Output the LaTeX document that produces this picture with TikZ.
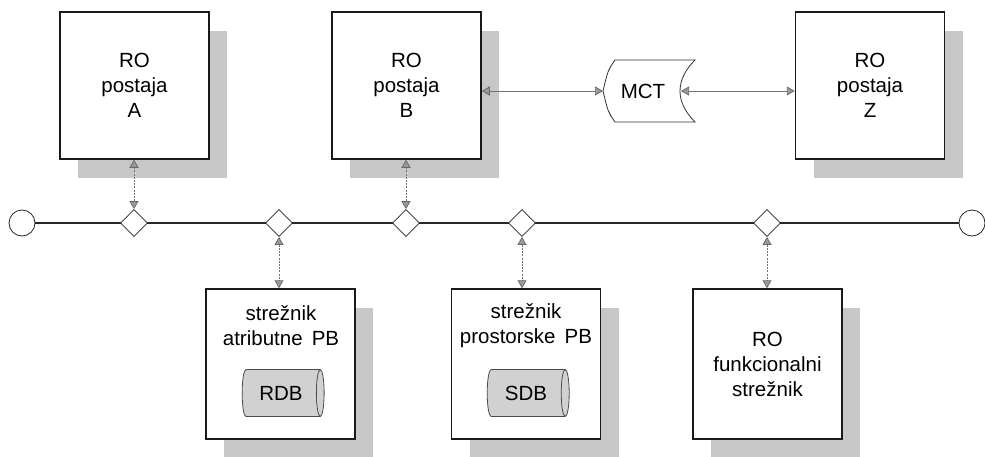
\documentclass[tikz,border=0pt]{standalone}
\usepackage{fontspec}
\setmainfont{Liberation Sans}
\usetikzlibrary{arrows.meta,shapes.geometric,shadows}

\tikzset{
  x=1pt, y=1pt,
  linktip/.tip={Triangle[length=8pt, width=9pt, fill=black!40, color=black!60]},
  txt/.style={font=\fontsize{20.5}{25}\selectfont, align=center, inner sep=0pt},
  shade box/.style={drop shadow={shadow xshift=18pt, shadow yshift=-19pt, fill=black!22, opacity=1}},
  station/.style={draw=black!90, line width=1.5pt, fill=white, minimum width=149pt,
                  minimum height=147pt, shade box, txt},
  server/.style={station, minimum height=150pt},
  tap/.style={diamond, draw=black!85, line width=0.8pt, fill=white, inner sep=0pt,
              minimum width=27pt, minimum height=27pt},
  terminal/.style={circle, draw=black!85, line width=0.8pt, fill=white, inner sep=0pt,
                   minimum size=26pt},
  bus/.style={draw=black!85, line width=1.6pt},
  vlink/.style={draw=black!55, line width=0.7pt, dash pattern=on 2pt off 1.2pt, linktip-linktip},
  hlink/.style={draw=black!55, line width=0.7pt, linktip-linktip},
  store/.style={cylinder, draw=black!70, line width=0.8pt, fill=black!18, shape aspect=0.55,
                minimum width=47pt, minimum height=82pt, inner sep=0pt, txt}
}

\begin{document}
\begin{tikzpicture}
\useasboundingbox (0,0) rectangle (985,-456);

% workstations on top
\node[station] (A) at (134.5,-85.5) {RO\\postaja\\A};
\node[station] (B) at (406.5,-85.5) {RO\\postaja\\B};
\node[station] (Z) at (870,-85.5) {RO\\postaja\\Z};

% servers below the bus
\node[server] (atr) at (280.5,-364) {};
\node[server] (pro) at (526,-364) {};
\node[server] (fun) at (767.5,-364) {RO\\funkcionalni\\strežnik};
\node[txt] (atrT) at (281,-326) {strežnik\\atributne\, PB};
\node[txt] (proT) at (526,-326) {strežnik\\prostorske\, PB};
\node[store] (rdb) at (281,-393) {RDB};
\node[store] (sdb) at (526,-393) {SDB};

% MCT gateway
\coordinate (mctL) at (603,-91);
\coordinate (mctR) at (681,-91);
\draw[black!80, line width=0.8pt, fill=white]
  (615,-60) -- (695,-60)
  .. controls (675,-80) and (675,-102) .. (695,-122)
  -- (615,-122)
  .. controls (608,-112) .. (mctL)
  .. controls (608,-70) .. cycle;
\node[txt] (mct) at (643,-91) {MCT};

% bus with terminators and taps
\node[terminal] (cL) at (22,-223) {};
\node[terminal] (cR) at (972,-223) {};
\draw[bus] (cL) -- (cR);
\node[tap] (dA) at (134,-223) {};
\node[tap] (dR) at (279,-223) {};
\node[tap] (dB) at (406,-223) {};
\node[tap] (dS) at (522,-223) {};
\node[tap] (dF) at (767,-223) {};

% links between taps and stations
\draw[vlink] (dA.north) -- (dA.north |- A.south);
\draw[vlink] (dB.north) -- (dB.north |- B.south);
\draw[vlink] (dR.south) -- (dR.south |- atr.north);
\draw[vlink] (dS.south) -- (dS.south |- pro.north);
\draw[vlink] (dF.south) -- (dF.south |- fun.north);

% links through the gateway
\draw[hlink] (B.east |- mctL) -- (mctL);
\draw[hlink] (mctR) -- (mctR -| Z.west);
\end{tikzpicture}
\end{document}
